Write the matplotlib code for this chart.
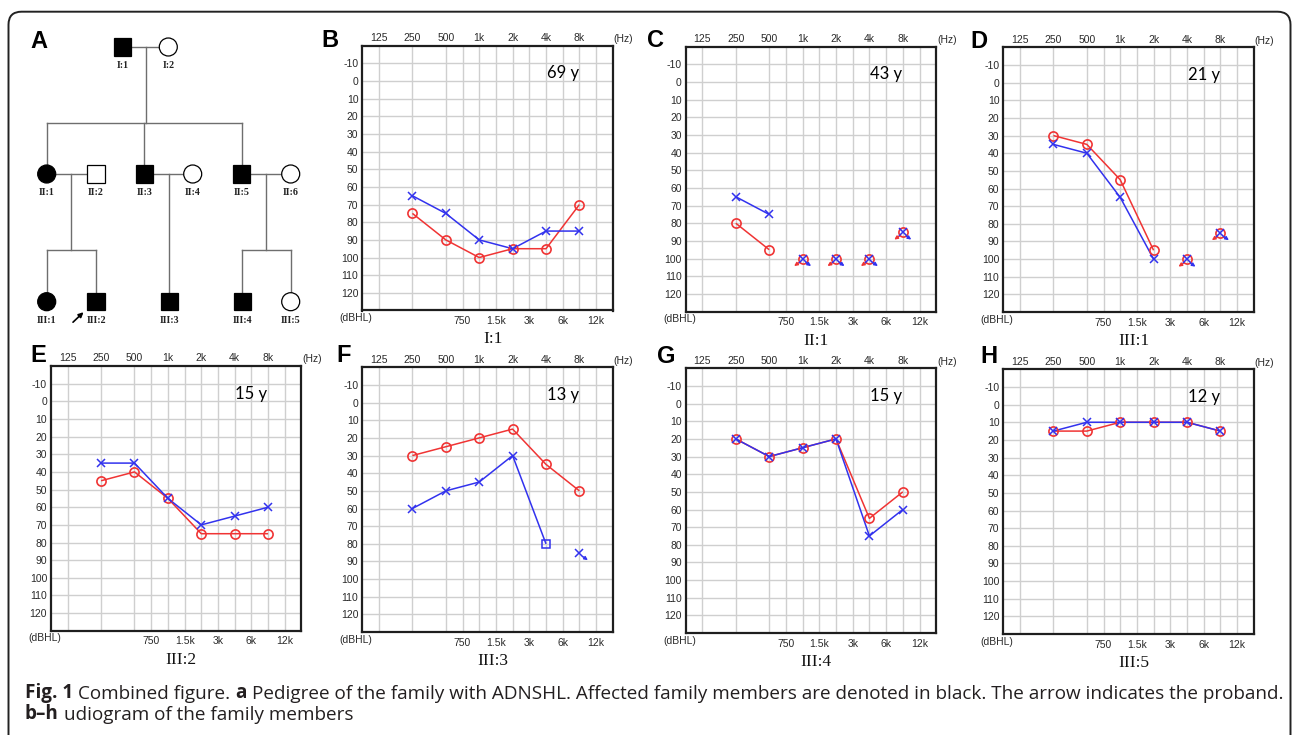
import numpy as np
import matplotlib
matplotlib.use('Agg')
import matplotlib.pyplot as plt
from matplotlib.transforms import offset_copy
from matplotlib.patches import Circle, Rectangle, PathPatch
from matplotlib.path import Path

# ---------------- data ----------------
top_freqs = [125, 250, 500, 1000, 2000, 4000, 8000]
top_freq_labels = ['125', '250', '500', '1k', '2k', '4k', '8k']
mid_freq_labels = ['750', '1.5k', '3k', '6k', '12k']
test_freqs = [250, 500, 1000, 2000, 4000, 8000]
db_ticks = [-10, 0, 10, 20, 30, 40, 50, 60, 70, 80, 90, 100, 110, 120]

panel_letters = ['B', 'C', 'D', 'E', 'F', 'G', 'H']
subjects = ['I:1', 'II:1', 'III:1', 'III:2', 'III:3', 'III:4', 'III:5']
ages = ['69 y', '43 y', '21 y', '15 y', '13 y', '15 y', '12 y']

# right ear (red O), left ear (blue X); kind: a = air, n = no response, m = masked
right_B = [75, 90, 100, 95, 95, 70]
left_B = [65, 75, 90, 95, 85, 85]
right_kind_B = ['a', 'a', 'a', 'a', 'a', 'a']
left_kind_B = ['a', 'a', 'a', 'a', 'a', 'a']

right_C = [80, 95, 100, 100, 100, 85]
left_C = [65, 75, 100, 100, 100, 85]
right_kind_C = ['a', 'a', 'n', 'n', 'n', 'n']
left_kind_C = ['a', 'a', 'n', 'n', 'n', 'n']

right_D = [30, 35, 55, 95, 100, 85]
left_D = [35, 40, 65, 100, 100, 85]
right_kind_D = ['a', 'a', 'a', 'a', 'n', 'n']
left_kind_D = ['a', 'a', 'a', 'a', 'n', 'n']

right_E = [45, 40, 55, 75, 75, 75]
left_E = [35, 35, 55, 70, 65, 60]
right_kind_E = ['a', 'a', 'a', 'a', 'a', 'a']
left_kind_E = ['a', 'a', 'a', 'a', 'a', 'a']

right_F = [30, 25, 20, 15, 35, 50]
left_F = [60, 50, 45, 30, 80, 85]
right_kind_F = ['a', 'a', 'a', 'a', 'a', 'a']
left_kind_F = ['a', 'a', 'a', 'a', 'm', 'n']

right_G = [20, 30, 25, 20, 65, 50]
left_G = [20, 30, 25, 20, 75, 60]
right_kind_G = ['a', 'a', 'a', 'a', 'a', 'a']
left_kind_G = ['a', 'a', 'a', 'a', 'a', 'a']

right_H = [15, 15, 10, 10, 10, 15]
left_H = [15, 10, 10, 10, 10, 15]
right_kind_H = ['a', 'a', 'a', 'a', 'a', 'a']
left_kind_H = ['a', 'a', 'a', 'a', 'a', 'a']

# pedigree
ped_ids = ['I:1', 'I:2', 'II:1', 'II:2', 'II:3', 'II:4', 'II:5', 'II:6',
           'III:1', 'III:2', 'III:3', 'III:4', 'III:5']
ped_sex = ['M', 'F', 'F', 'M', 'M', 'F', 'M', 'F', 'F', 'M', 'M', 'M', 'F']
ped_affected = [1, 0, 1, 0, 1, 0, 1, 0, 1, 1, 1, 1, 0]
ped_couples = [('I:1', 'I:2'), ('II:1', 'II:2'), ('II:3', 'II:4'), ('II:5', 'II:6')]
ped_children = [['II:1', 'II:3', 'II:5'], ['III:1', 'III:2'], ['III:3'], ['III:4', 'III:5']]
proband = 'III:2'

caption_line1 = [('Fig. 1', 'bold'), ('Combined figure.', 'normal'), ('a', 'bold'),
                 ('Pedigree of the family with ADNSHL. Affected family members are denoted in black. '
                  'The arrow indicates the proband.', 'normal')]
caption_line2 = [('b\u2013h', 'bold'), ('udiogram of the family members', 'normal')]

# ---------------- layout ----------------
W, H = 1292, 735
fig = plt.figure(figsize=(W / 100, H / 100), dpi=100)
fig.patch.set_facecolor('white')

RED = '#f03434'
BLUE = '#3232ee'
GRID = '#cfcfcf'
TXT = '#2a2a2a'
TICK_FS = 7.5

bg = fig.add_axes([0, 0, 1, 1])
bg.set_xlim(0, W)
bg.set_ylim(H, 0)
bg.axis('off')

# outer frame (rounded top, open bottom)
L, T, R, rr = 8.5, 11.7, 1290.5, 13
verts = [(L, H), (L, T + rr), (L, T), (L + rr, T), (R - rr, T), (R, T), (R, T + rr), (R, H)]
codes = [Path.MOVETO, Path.LINETO, Path.CURVE3, Path.CURVE3, Path.LINETO, Path.CURVE3, Path.CURVE3, Path.LINETO]
bg.add_patch(PathPatch(Path(verts, codes), fill=False, ec='#222222', lw=1.4))

# ---------------- pedigree ----------------
gen_y = {'I': 47, 'II': 174, 'III': 301.7}
ped_x = {'I:1': 122.7, 'I:2': 168.3, 'II:1': 46.7, 'II:2': 96, 'II:3': 144.3, 'II:4': 192.7,
         'II:5': 241.7, 'II:6': 290.7, 'III:1': 46.7, 'III:2': 96, 'III:3': 169.3,
         'III:4': 242.3, 'III:5': 290.7}
half = 8.6
line_col = '#6e6e6e'


def pos(pid):
    return ped_x[pid], gen_y[pid.split(':')[0]]


for (a, b), kids in zip(ped_couples, ped_children):
    xa, ya = pos(a)
    xb, yb = pos(b)
    bg.plot([xa, xb], [ya, yb], color=line_col, lw=1.0, zorder=1)
    xm = (xa + xb) / 2
    ys = ya + 76
    kx = [pos(k)[0] for k in kids]
    if len(kids) == 1:
        kxx, kyy = pos(kids[0])
        bg.plot([xm, xm], [ya, kyy - half], color=line_col, lw=1.0, zorder=1)
    else:
        bg.plot([xm, xm], [ya, ys], color=line_col, lw=1.0, zorder=1)
        bg.plot([min(kx), max(kx)], [ys, ys], color=line_col, lw=1.0, zorder=1)
        for k in kids:
            kxx, kyy = pos(k)
            bg.plot([kxx, kxx], [ys, kyy - half], color=line_col, lw=1.0, zorder=1)

for pid, sx, aff in zip(ped_ids, ped_sex, ped_affected):
    x, y = pos(pid)
    fc = 'black' if aff else 'white'
    if sx == 'M':
        bg.add_patch(Rectangle((x - half, y - half), 2 * half, 2 * half, fc=fc, ec='black', lw=0.9, zorder=3))
    else:
        bg.add_patch(Circle((x, y), half + 0.4, fc=fc, ec='black', lw=0.9, zorder=3))
    bg.text(x, y + 18.5, pid, ha='center', va='center', fontsize=7.2, family='Liberation Serif',
            weight='bold', color='#222222')

px, py = pos(proband)
bg.annotate('', xy=(px - 12.5, py + 10.5), xytext=(px - 23, py + 20.5),
            arrowprops=dict(arrowstyle='-|>', color='black', lw=1.2, mutation_scale=7,
                            shrinkA=0, shrinkB=0))

bg.text(30, 48.3, 'A', fontsize=17, weight='bold', family='Liberation Sans', va='baseline', ha='left')

# ---------------- audiograms ----------------
box_left = [362.3, 685.7, 1003.3, 51, 362.3, 685.7, 1003.3]
box_top = [45.7, 46.7, 47.3, 366, 367.3, 368.3, 369.3]
box_w, box_h = 250.5, 264.8
letter_xy = [(321.7, 46.7), (646.7, 46.7), (970, 48), (30, 361.7), (336.7, 362), (656.7, 363), (980, 363.3)]

rights = [right_B, right_C, right_D, right_E, right_F, right_G, right_H]
lefts = [left_B, left_C, left_D, left_E, left_F, left_G, left_H]
right_kinds = [right_kind_B, right_kind_C, right_kind_D, right_kind_E, right_kind_F, right_kind_G, right_kind_H]
left_kinds = [left_kind_B, left_kind_C, left_kind_D, left_kind_E, left_kind_F, left_kind_G, left_kind_H]

half_oct = [np.sqrt(top_freqs[i] * top_freqs[i + 1]) for i in range(2, 6)] + [np.sqrt(8000 * 16000)]


def draw_ear(ax, values, kinds, color, marker, ms, mew, z, adir):
    rx, ry = [], []
    runs = []
    for f, v, k in zip(test_freqs, values, kinds):
        if k == 'n':
            if rx:
                runs.append((rx, ry))
            rx, ry = [], []
        else:
            rx.append(f)
            ry.append(v)
    if rx:
        runs.append((rx, ry))
    for xs, ys in runs:
        if len(xs) > 1:
            ax.plot(xs, ys, color=color, lw=1.1, zorder=z - 2, solid_capstyle='butt')
    for f, v, k in zip(test_freqs, values, kinds):
        mk = 's' if k == 'm' else marker
        ax.plot([f], [v], ls='none', marker=mk, ms=ms if k != 'm' else 6.3, mfc='none', mec=color,
                mew=mew, zorder=z)
        if k == 'n':
            start = offset_copy(ax.transData, fig=fig, x=adir * 3.5, y=-4.0, units='dots')
            end = offset_copy(ax.transData, fig=fig, x=adir * 8.5, y=-7.5, units='dots')
            ax.annotate('', xy=(f, v), xycoords=end, xytext=(f, v), textcoords=start,
                        arrowprops=dict(arrowstyle='-|>', color=color, lw=1.0, mutation_scale=5,
                                        shrinkA=0, shrinkB=0),
                        zorder=z, annotation_clip=False)


for i in range(7):
    l, t = box_left[i], box_top[i]
    ax = fig.add_axes([l / W, 1 - (t + box_h) / H, box_w / W, box_h / H])
    ax.set_xscale('log', base=2)
    ax.set_xlim(125 / np.sqrt(2), 16000)
    ax.set_ylim(130, -20)
    ax.set_xticks(top_freqs, top_freq_labels)
    ax.set_xticks(half_oct, mid_freq_labels, minor=True)
    ax.set_yticks(db_ticks, [str(d) for d in db_ticks])
    ax.tick_params(axis='x', which='major', top=False, bottom=False, labeltop=True, labelbottom=False,
                   length=0, pad=2.0, labelsize=TICK_FS, labelcolor=TXT)
    ax.tick_params(axis='x', which='minor', top=False, bottom=False, labeltop=False, labelbottom=True,
                   length=0, pad=4.0, labelsize=TICK_FS, labelcolor=TXT)
    ax.tick_params(axis='y', which='both', left=False, length=0, pad=2.8, labelsize=TICK_FS, labelcolor=TXT)
    for lab in ax.get_xticklabels(which='both') + ax.get_yticklabels():
        lab.set_family('Liberation Sans')
    ax.grid(False)
    for f in top_freqs + half_oct:
        ax.axvline(f, color=GRID, lw=1.0, zorder=0.5)
    for d in db_ticks:
        ax.axhline(d, color=GRID, lw=1.0, zorder=0.5)
    for sp in ax.spines.values():
        sp.set_linewidth(1.6)
        sp.set_color('#1e1e1e')
        sp.set_zorder(6)

    draw_ear(ax, lefts[i], left_kinds[i], BLUE, 'x', 5.2, 1.1, 5, +1)
    draw_ear(ax, rights[i], right_kinds[i], RED, 'o', 6.6, 1.2, 4, -1)

    ax.text(1 + 10.6 / box_w, 1 + 6.7 / box_h, '(Hz)', transform=ax.transAxes, ha='center', va='center',
            fontsize=TICK_FS, color=TXT, family='Liberation Sans')
    ax.text(-6.0 / box_w, -7.7 / box_h, '(dBHL)', transform=ax.transAxes, ha='center', va='center',
            fontsize=TICK_FS, color=TXT, family='Liberation Sans')
    ax.text(0.80, 0.877, ages[i], transform=ax.transAxes, ha='center', va='baseline',
            fontsize=12, color='black', family='Lato')
    ax.text(0.5 + 5 / box_w, -33 / box_h, subjects[i], transform=ax.transAxes, ha='center',
            va='baseline', fontsize=12.5, color='#111111', family='Liberation Serif')

    lx, ly = letter_xy[i]
    bg.text(lx, ly, panel_letters[i], fontsize=17, weight='bold', family='Liberation Sans',
            va='baseline', ha='left')

# ---------------- caption ----------------
cap_size = 12.5
gap_pts = 3.3


def chain(pieces, x0, y0):
    arts = []
    prev = None
    for s, w in pieces:
        if prev is None:
            a = bg.text(x0, y0, s, fontsize=cap_size, weight=w, family='Open Sans', color='#231f20',
                        va='baseline', ha='left')
        else:
            a = bg.annotate(s, xy=(1, 0), xycoords=prev, xytext=(gap_pts, 0), textcoords='offset points',
                            fontsize=cap_size, weight=w, family='Open Sans', color='#231f20',
                            va='bottom', ha='left')
        arts.append(a)
        prev = a
    return arts


line1 = chain(caption_line1, 25, 698)
line2 = chain(caption_line2, 25, 719)

# fit first caption line to the frame width
fig.canvas.draw()
r = fig.canvas.get_renderer()
right_edge = line1[-1].get_window_extent(r).x1
scale = (1285 - 25) / (right_edge - 25)
cap_size *= scale
gap_pts *= scale
for a in line1 + line2:
    a.set_fontsize(cap_size)
    if a is not line1[0] and a is not line2[0]:
        a.set_position((gap_pts, 0))

fig.savefig('out.png', dpi=100)
